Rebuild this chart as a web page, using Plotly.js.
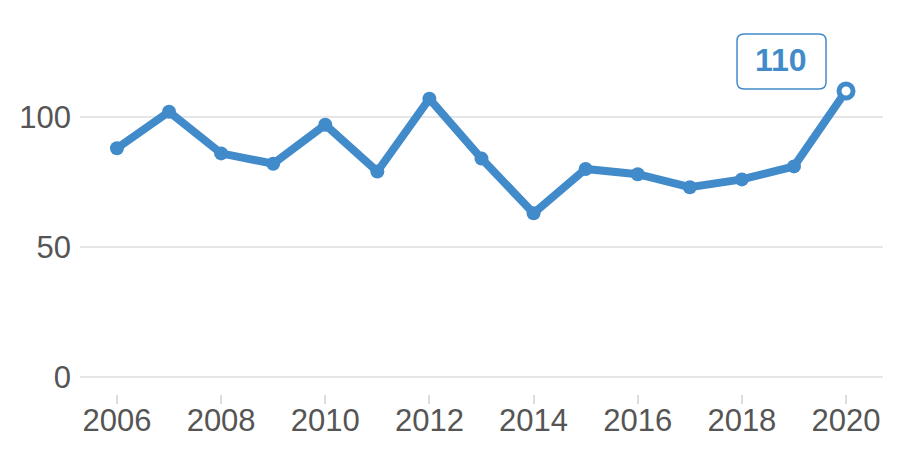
<!DOCTYPE html>
<html><head><meta charset="utf-8">
<script src="https://cdn.plot.ly/plotly-3.0.1.min.js"></script>
<style>html,body{margin:0;padding:0;background:#fff}#chart{width:900px;height:450px}</style>
</head><body><div id="chart"></div>
<script>
const years = [2006,2007,2008,2009,2010,2011,2012,2013,2014,2015,2016,2017,2018,2019,2020];
const values = [88,102,86,82,97,79,107,84,63,80,78,73,76,81,110];
const yTicks = [0,50,100];
const xTicks = [2006,2008,2010,2012,2014,2016,2018,2020];

const blue = '#428BCA';
const FONT = '"Liberation Sans", Arial, sans-serif';
const n = values.length;
const lastX = years[n-1], lastY = values[n-1];

const trace = {
  x: years, y: values, type: 'scatter', mode: 'lines+markers',
  line: {color: blue, width: 8},
  marker: {
    size: 14, opacity: 1,
    color: years.map((_, i) => i === n-1 ? '#ffffff' : blue),
    line: {color: blue, width: years.map((_, i) => i === n-1 ? 5 : 0)}
  },
  hoverinfo: 'x+y', cliponaxis: false
};

// rounded box around the label, anchored to the last point, sized in pixels
const L = -109, R = -20, T = 57, B = 2, r = 7;
const boxPath = `M ${L+r},${B} L ${R-r},${B} Q ${R},${B} ${R},${B+r} L ${R},${T-r} Q ${R},${T} ${R-r},${T} L ${L+r},${T} Q ${L},${T} ${L},${T-r} L ${L},${B+r} Q ${L},${B} ${L+r},${B} Z`;

const layout = {
  width: 900, height: 450,
  margin: {l: 80, r: 17, t: 28, b: 56},
  paper_bgcolor: '#fff', plot_bgcolor: '#fff',
  font: {family: FONT, color: '#555555', size: 31},
  showlegend: false,
  xaxis: {
    range: [2005.29, 2020.71], tickvals: xTicks, ticktext: xTicks.map(String),
    showgrid: false, zeroline: false, showline: false,
    ticks: 'outside', ticklen: 9, tickwidth: 2, tickcolor: '#dddddd',
    ticklabelstandoff: -10,
    tickfont: {family: FONT, size: 31, color: '#555555'}
  },
  yaxis: {
    range: [-6.5, 134.2], tickvals: yTicks, ticktext: yTicks.map(String),
    showgrid: true, gridcolor: '#e6e6e6', gridwidth: 2.5,
    zeroline: false, showline: false, ticks: '',
    ticklabelstandoff: 8,
    tickfont: {family: FONT, size: 31, color: '#555555'}
  },
  shapes: [{
    type: 'path', xref: 'x', yref: 'y', xsizemode: 'pixel', ysizemode: 'pixel',
    xanchor: lastX, yanchor: lastY, path: boxPath,
    line: {color: blue, width: 1.5}, fillcolor: '#ffffff', layer: 'above'
  }],
  annotations: [{
    x: lastX, y: lastY, xref: 'x', yref: 'y',
    text: '<b>' + lastY + '</b>', showarrow: true, arrowcolor: 'rgba(0,0,0,0)',
    ax: -65, ay: -31, axref: 'pixel', ayref: 'pixel',
    font: {size: 32, color: blue, family: FONT, weight: 'bold'}
  }]
};

Plotly.newPlot('chart', [trace], layout, {displayModeBar: false, staticPlot: true});
</script></body></html>
